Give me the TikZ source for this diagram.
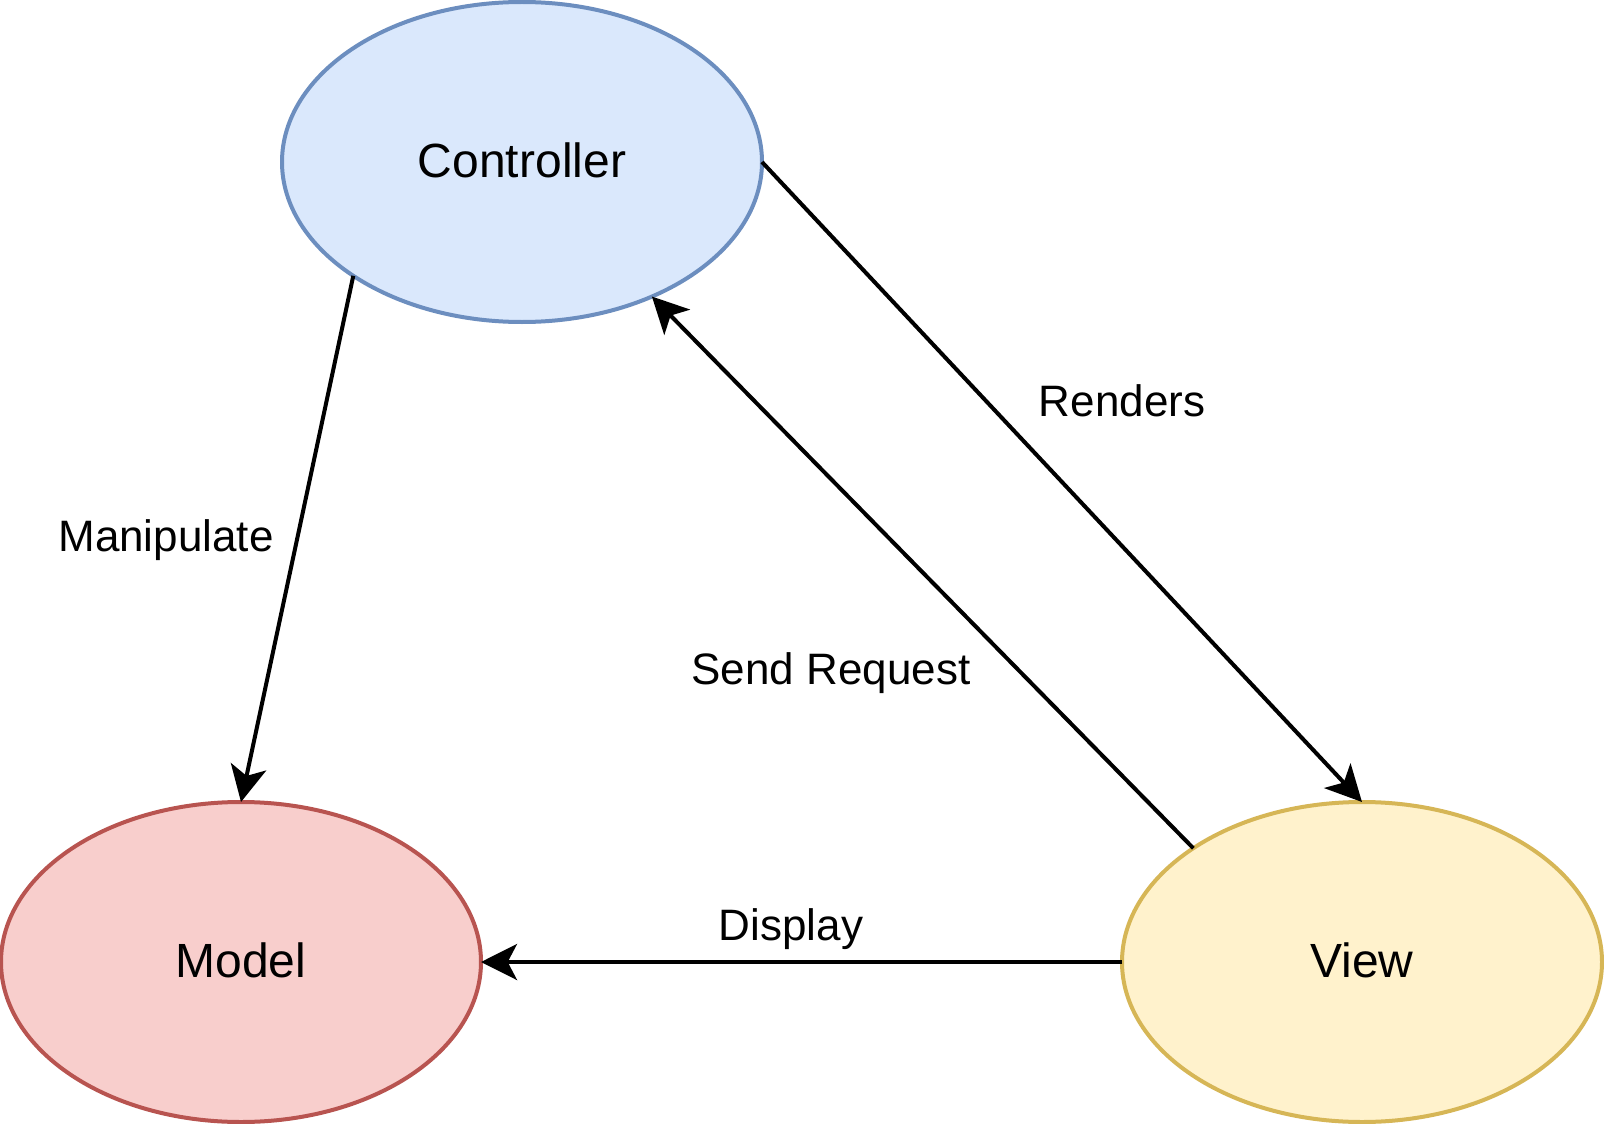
\documentclass[tikz,border=0pt]{standalone}
\usepackage{fontspec}
\setmainfont{Liberation Sans}
\usetikzlibrary{shapes.geometric,arrows.meta}
\definecolor{cfill}{HTML}{DAE8FC}\definecolor{cdraw}{HTML}{6C8EBF}
\definecolor{mfill}{HTML}{F8CECC}\definecolor{mdraw}{HTML}{B85450}
\definecolor{vfill}{HTML}{FFF2CC}\definecolor{vdraw}{HTML}{D6B656}
\begin{document}
\begin{tikzpicture}[x=0.75pt,y=-0.75pt,
  ell/.style={ellipse,minimum width=360pt,minimum height=240pt,inner sep=0pt,outer sep=0pt,line width=3pt,font=\fontsize{36}{43}\selectfont},
  conn/.style={line width=3pt,-{Stealth[length=27pt,width=27pt,inset=7pt]}},
  lbl/.style={font=\fontsize{33}{40}\selectfont,inner sep=0pt}]
\useasboundingbox (0,0) rectangle (1604,1124);
\node[ell,fill=cfill,draw=cdraw] (ctrl) at (522,162) {\raisebox{2.5pt}{Controller}};
\node[ell,fill=mfill,draw=mdraw] (model) at (241,962) {\raisebox{2.5pt}{Model}};
\node[ell,fill=vfill,draw=vdraw] (view) at (1362,962) {\raisebox{2.5pt}{View}};
\draw[conn] (ctrl.-146.4) -- (model.north);
\draw[conn] (ctrl.east) -- (view.north);
\draw[conn] (view.146.1) -- (ctrl.-46.5);
\draw[conn] (view.west) -- (model.east);
\node[lbl] (l1) at (166,540) {Manipulate};
\node[lbl] (l2) at (1122,401) {Renders};
\node[lbl] (l3) at (831,673) {Send Request};
\node[lbl] (l4) at (791,929) {Display};
\end{tikzpicture}
\end{document}
